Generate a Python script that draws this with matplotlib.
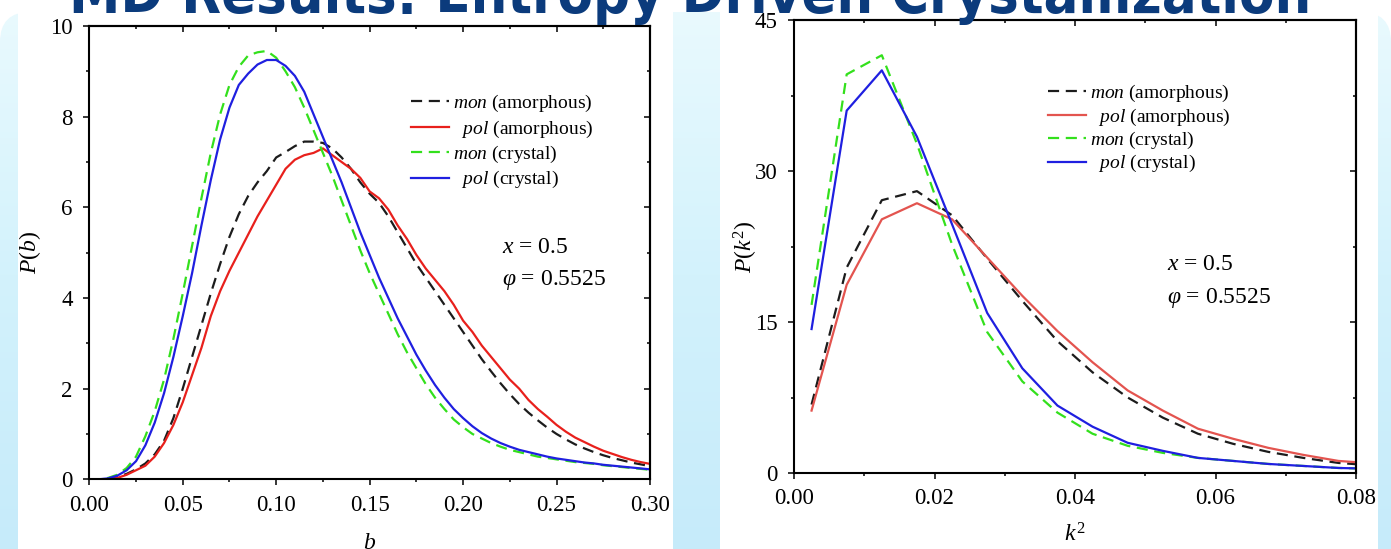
import numpy as np
import matplotlib
matplotlib.use('Agg')
import matplotlib.pyplot as plt
from matplotlib.patches import FancyBboxPatch, Rectangle
from matplotlib.ticker import MultipleLocator, FormatStrFormatter
from matplotlib.colors import LinearSegmentedColormap

plt.rcParams['font.family'] = ['Liberation Serif', 'DejaVu Serif']
plt.rcParams['mathtext.fontset'] = 'custom'
plt.rcParams['mathtext.rm'] = 'Liberation Serif'
plt.rcParams['mathtext.it'] = 'Liberation Serif:italic'
plt.rcParams['mathtext.bf'] = 'Liberation Serif:bold'

# ---------------- data ----------------
title = "MD Results: Entropy Driven Crystallization"
labels = [r'$mon$ (amorphous)', r'  $pol$ (amorphous)', r'$mon$ (crystal)', r'  $pol$ (crystal)']

b = [0.000, 0.005, 0.010, 0.015, 0.020, 0.025, 0.030, 0.035, 0.040, 0.045,
     0.050, 0.055, 0.060, 0.065, 0.070, 0.075, 0.080, 0.085, 0.090, 0.095,
     0.100, 0.105, 0.110, 0.115, 0.120, 0.125, 0.130, 0.135, 0.140, 0.145,
     0.150, 0.155, 0.160, 0.165, 0.170, 0.175, 0.180, 0.185, 0.190, 0.195,
     0.200, 0.205, 0.210, 0.215, 0.220, 0.225, 0.230, 0.235, 0.240, 0.245,
     0.250, 0.255, 0.260, 0.265, 0.270, 0.275, 0.280, 0.285, 0.290, 0.295, 0.300]
Pb_mon_am = [0, 0, 0.0, 0.05, 0.12, 0.22, 0.35, 0.55, 0.85, 1.35,
             2.0, 2.7, 3.4, 4.1, 4.75, 5.35, 5.85, 6.25, 6.55, 6.8,
             7.1, 7.22, 7.35, 7.45, 7.45, 7.42, 7.3, 7.1, 6.85, 6.55,
             6.3, 6.1, 5.8, 5.45, 5.1, 4.75, 4.45, 4.15, 3.85, 3.55,
             3.25, 2.95, 2.65, 2.38, 2.12, 1.88, 1.66, 1.47, 1.3, 1.14,
             1.0, 0.88, 0.77, 0.68, 0.6, 0.53, 0.47, 0.42, 0.37, 0.33, 0.29]
Pb_pol_am = [0, 0, 0, 0.03, 0.1, 0.2, 0.3, 0.5, 0.8, 1.2,
             1.7, 2.3, 2.9, 3.6, 4.15, 4.6, 5.0, 5.4, 5.8, 6.15,
             6.5, 6.85, 7.05, 7.15, 7.2, 7.3, 7.15, 7.0, 6.85, 6.65,
             6.35, 6.2, 5.95, 5.6, 5.3, 4.95, 4.65, 4.4, 4.15, 3.85,
             3.5, 3.25, 2.95, 2.7, 2.45, 2.2, 2.0, 1.75, 1.55, 1.38,
             1.2, 1.05, 0.92, 0.82, 0.72, 0.63, 0.56, 0.49, 0.43, 0.38, 0.34]
Pb_mon_cr = [0, 0, 0.03, 0.1, 0.25, 0.5, 0.95, 1.5, 2.2, 3.1,
             4.1, 5.15, 6.2, 7.2, 8.05, 8.7, 9.1, 9.35, 9.42, 9.45,
             9.3, 9.0, 8.65, 8.2, 7.7, 7.2, 6.7, 6.15, 5.6, 5.05,
             4.55, 4.1, 3.65, 3.2, 2.8, 2.45, 2.1, 1.8, 1.55, 1.32,
             1.15, 1.0, 0.9, 0.8, 0.72, 0.65, 0.6, 0.55, 0.5, 0.47,
             0.44, 0.41, 0.38, 0.36, 0.34, 0.31, 0.29, 0.27, 0.25, 0.23, 0.21]
Pb_pol_cr = [0, 0, 0.02, 0.08, 0.2, 0.4, 0.75, 1.25, 1.9, 2.7,
             3.6, 4.55, 5.6, 6.6, 7.5, 8.2, 8.7, 8.95, 9.15, 9.25,
             9.25, 9.12, 8.9, 8.55, 8.05, 7.55, 7.05, 6.55, 6.0, 5.45,
             4.95, 4.45, 4.0, 3.55, 3.15, 2.75, 2.4, 2.08, 1.8, 1.55,
             1.35, 1.17, 1.02, 0.9, 0.8, 0.72, 0.65, 0.6, 0.55, 0.5,
             0.46, 0.43, 0.4, 0.37, 0.35, 0.32, 0.3, 0.28, 0.26, 0.24, 0.22]

k2 = [0.0025, 0.0075, 0.0125, 0.0175, 0.0225, 0.0275, 0.0325, 0.0375,
      0.0425, 0.0475, 0.0525, 0.0575, 0.0625, 0.0675, 0.0725, 0.0775, 0.0825]
Pk_mon_am = [6.8, 20.4, 27.1, 28.0, 25.6, 21.3, 17.1, 13.1, 10.0, 7.5, 5.5, 3.9, 2.9, 2.1, 1.5, 1.0, 0.75]
Pk_pol_am = [6.2, 18.7, 25.2, 26.8, 25.2, 21.4, 17.6, 14.1, 11.0, 8.2, 6.2, 4.4, 3.4, 2.5, 1.8, 1.2, 0.95]
Pk_mon_cr = [16.7, 39.6, 41.5, 32.7, 22.7, 14.0, 9.1, 6.0, 3.9, 2.7, 2.0, 1.5, 1.2, 0.9, 0.7, 0.5, 0.42]
Pk_pol_cr = [14.3, 36.0, 40.0, 33.4, 24.7, 15.9, 10.4, 6.7, 4.6, 3.0, 2.2, 1.5, 1.2, 0.9, 0.7, 0.5, 0.42]

# ---------------- figure / background ----------------
W, H = 1391, 549
fig = plt.figure(figsize=(W / 100, H / 100), dpi=100, facecolor='white')
bg = fig.add_axes([0, 0, 1, 1], zorder=-10)
bg.axis('off')
cmap = LinearSegmentedColormap.from_list('bgc', ['#eafafe', '#d3f2fc', '#c6ebfa'])
grad = np.linspace(0, 1, 256).reshape(-1, 1)
im = bg.imshow(grad, extent=(0, W, H, 0), cmap=cmap, aspect='auto', origin='upper')
frame = FancyBboxPatch((0, 12), W, H + 60, boxstyle='round,pad=0,rounding_size=30',
                       facecolor='none', edgecolor='none', transform=bg.transData)
bg.add_patch(frame)
im.set_clip_path(frame)
bg.add_patch(Rectangle((18, 0), 655, H + 5, facecolor='white', edgecolor='none'))
bg.add_patch(Rectangle((720, 0), 658, H + 5, facecolor='white', edgecolor='none'))
bg.set_xlim(0, W)
bg.set_ylim(H, 0)

tt = fig.text(690 / W, 1 - 13 / H, title, ha='center', va='baseline', fontsize=40,
              fontweight='bold', fontstretch='condensed', color='#0b3b7c',
              family=['DejaVu Sans'], zorder=50)

# ---------------- axes ----------------
axL = fig.add_axes([89.3 / W, 1 - 479.3 / H, 560.7 / W, 453.3 / H])
axR = fig.add_axes([794 / W, 1 - 473 / H, 562 / W, 453 / H])

c_black = '#1c1c1c'
c_green = '#33e01c'
c_blue = '#1f1fe0'
lw = 1.6
dash = (5, 3)
TICK_FS = 16.5
LAB_FS = 17
ANN_FS = 17
LEG_FS = 14


def style(ax, xlim, ylim, xmaj, xmin, ymaj, ymin, xfmt, yfmt):
    ax.set_xlim(*xlim)
    ax.set_ylim(*ylim)
    ax.xaxis.set_major_locator(MultipleLocator(xmaj))
    ax.xaxis.set_minor_locator(MultipleLocator(xmin))
    ax.yaxis.set_major_locator(MultipleLocator(ymaj))
    ax.yaxis.set_minor_locator(MultipleLocator(ymin))
    ax.xaxis.set_major_formatter(FormatStrFormatter(xfmt))
    ax.yaxis.set_major_formatter(FormatStrFormatter(yfmt))
    ax.tick_params(which='both', direction='out', width=1.1, labelsize=TICK_FS,
                   top=False, right=False, color='black')
    ax.tick_params(axis='x', which='major', length=4, pad=7)
    ax.tick_params(axis='y', which='major', length=4, pad=8)
    ax.tick_params(which='minor', length=2.5)
    for s in ax.spines.values():
        s.set_linewidth(1.5)
    st = ax.secondary_xaxis('top')
    st.xaxis.set_major_locator(MultipleLocator(xmaj))
    st.xaxis.set_minor_locator(MultipleLocator(xmin))
    st.tick_params(which='both', direction='in', labeltop=False, width=1.1)
    st.tick_params(which='major', length=4)
    st.tick_params(which='minor', length=2.5)
    st.spines['top'].set_linewidth(1.5)
    sr = ax.secondary_yaxis('right')
    sr.yaxis.set_major_locator(MultipleLocator(ymaj))
    sr.yaxis.set_minor_locator(MultipleLocator(ymin))
    sr.tick_params(which='both', direction='in', labelright=False, width=1.1)
    sr.tick_params(which='major', length=4)
    sr.tick_params(which='minor', length=2.5)
    sr.spines['right'].set_linewidth(1.5)


# left panel
axL.plot(b, Pb_mon_am, color=c_black, lw=lw, dashes=dash, label=labels[0])
axL.plot(b, Pb_pol_am, color='#e8201c', lw=lw, label=labels[1])
axL.plot(b, Pb_mon_cr, color=c_green, lw=lw, dashes=dash, label=labels[2])
axL.plot(b, Pb_pol_cr, color=c_blue, lw=lw, label=labels[3])
style(axL, (0, 0.30), (0, 10), 0.05, 0.025, 2, 1, '%.2f', '%d')
axL.set_xlabel(r'$b$', fontsize=LAB_FS)
axL.set_ylabel(r'$P$($b$)', fontsize=LAB_FS)
axL.xaxis.set_label_coords(0.5, -0.118)
axL.yaxis.set_label_coords(-0.083, 0.5)
axL.legend(loc='upper left', bbox_to_anchor=(0.5737, 0.852), frameon=False, fontsize=LEG_FS,
           handlelength=1.95, handletextpad=0.2, labelspacing=0.22, borderpad=0, borderaxespad=0)
axL.text(0.2208, 4.99, r'$x$ = 0.5', fontsize=ANN_FS, ha='left', va='baseline')
axL.text(0.2210, 4.29, r'$\varphi$ = 0.5525', fontsize=ANN_FS, ha='left', va='baseline')

# right panel
axR.plot(k2, Pk_mon_am, color=c_black, lw=lw, dashes=dash, label=labels[0])
axR.plot(k2, Pk_pol_am, color='#e3544f', lw=lw, label=labels[1])
axR.plot(k2, Pk_mon_cr, color=c_green, lw=lw, dashes=dash, label=labels[2])
axR.plot(k2, Pk_pol_cr, color=c_blue, lw=lw, label=labels[3])
style(axR, (0, 0.08), (0, 45), 0.02, 0.01, 15, 7.5, '%.2f', '%d')
axR.set_xlabel(r'$k^2$', fontsize=LAB_FS)
axR.set_ylabel(r'$P$($k^2$)', fontsize=LAB_FS)
axR.xaxis.set_label_coords(0.5, -0.112)
axR.yaxis.set_label_coords(-0.06, 0.5)
axR.legend(loc='upper left', bbox_to_anchor=(0.452, 0.861), frameon=False, fontsize=LEG_FS,
           handlelength=1.95, handletextpad=0.2, labelspacing=0.12, borderpad=0, borderaxespad=0)
axR.text(0.0531, 20.2, r'$x$ = 0.5', fontsize=ANN_FS, ha='left', va='baseline')
axR.text(0.0531, 16.9, r'$\varphi$ = 0.5525', fontsize=ANN_FS, ha='left', va='baseline')

# fit title width to the reference span (about 70..1310 px)
fig.canvas.draw()
bb = tt.get_window_extent()
tt.set_fontsize(40 * 1240.0 / bb.width)

fig.savefig('out.png', dpi=100, facecolor=fig.get_facecolor())
